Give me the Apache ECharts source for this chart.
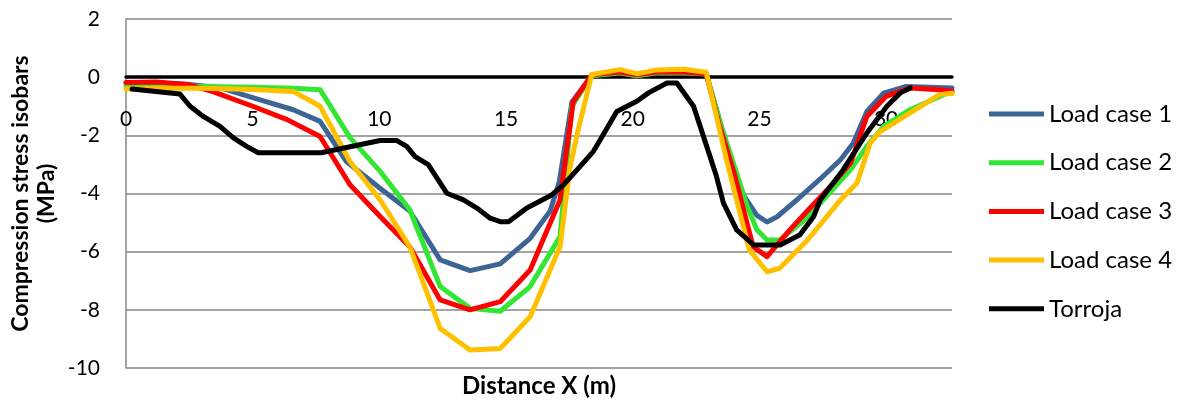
<!DOCTYPE html>
<html>
<head>
<meta charset="utf-8">
<script src="https://cdn.jsdelivr.net/npm/echarts@6/dist/echarts.min.js"></script>
<style>html,body{margin:0;padding:0;background:#fff}#c{width:1179px;height:405px}</style>
</head>
<body>
<div id="c"></div>
<script>
var seriesNames = ['Load case 1', 'Load case 2', 'Load case 3', 'Load case 4', 'Torroja'];
var xTicks = [0, 5, 10, 15, 20, 25, 30];
var yTicks = [-10, -8, -6, -4, -2, 0, 2];

var lc1X = [0, 1.2, 2.4, 3.7, 5.0, 6.6, 7.66, 8.7, 10.0, 11.2, 12.4, 13.58, 14.77, 15.95, 16.74, 17.1, 17.6, 18.38, 19.5, 20.16, 20.95, 22.0, 22.9, 23.5, 24.0, 24.4, 24.9, 25.3, 25.7, 26.5, 27.4, 28.2, 28.7, 29.24, 29.9, 30.8, 32.6];
var lc1Y = [-0.2, -0.2, -0.24, -0.36, -0.7, -1.12, -1.52, -2.9, -3.8, -4.6, -6.28, -6.65, -6.42, -5.54, -4.6, -3.6, -0.85, 0.05, 0.15, 0.05, 0.15, 0.15, 0.1, -1.7, -3.2, -4.1, -4.75, -4.98, -4.8, -4.2, -3.5, -2.84, -2.27, -1.18, -0.55, -0.32, -0.37];

var lc2X = [0, 1.2, 3.0, 5.0, 6.6, 7.66, 8.84, 10.03, 11.2, 12.4, 13.58, 14.77, 15.95, 17.13, 17.6, 18.38, 19.5, 20.16, 20.95, 22.0, 22.9, 23.5, 24.1, 24.5, 24.9, 25.3, 25.8, 26.8, 27.8, 28.6, 29.24, 29.9, 30.95, 32.4, 32.6];
var lc2Y = [-0.3, -0.3, -0.32, -0.35, -0.38, -0.43, -2.08, -3.24, -4.56, -7.2, -7.95, -8.05, -7.2, -5.48, -1.0, 0.05, 0.15, 0.05, 0.15, 0.15, 0.12, -1.7, -3.3, -4.4, -5.25, -5.6, -5.6, -4.9, -3.95, -3.18, -2.38, -1.69, -1.12, -0.55, -0.55];

var lc3X = [0, 1.2, 2.4, 3.4, 5.0, 6.36, 7.66, 8.84, 10.03, 11.2, 12.4, 13.58, 14.77, 15.95, 17.13, 17.65, 18.38, 19.5, 20.16, 20.95, 22.0, 22.9, 23.4, 24.0, 24.75, 25.3, 26.2, 27.0, 27.8, 28.6, 29.24, 30.0, 30.95, 32.1, 32.6];
var lc3Y = [-0.18, -0.17, -0.25, -0.49, -1.0, -1.46, -2.04, -3.7, -4.79, -5.83, -7.66, -8.0, -7.72, -6.63, -4.22, -0.85, 0.08, 0.18, 0.08, 0.18, 0.18, 0.12, -1.6, -3.3, -5.83, -6.17, -5.25, -4.5, -3.76, -2.95, -1.35, -0.66, -0.37, -0.43, -0.48];

var lc4X = [0, 1.2, 3.0, 5.0, 6.6, 7.66, 8.84, 10.03, 11.2, 12.4, 13.58, 14.77, 15.95, 17.13, 17.53, 17.85, 18.38, 19.5, 20.16, 20.95, 22.0, 22.9, 23.7, 24.6, 25.3, 25.8, 26.9, 28.2, 28.85, 29.37, 29.76, 30.95, 32.1, 32.6];
var lc4Y = [-0.41, -0.38, -0.38, -0.42, -0.49, -1.0, -2.9, -4.22, -5.83, -8.64, -9.38, -9.33, -8.24, -5.83, -3.07, -1.8, 0.09, 0.26, 0.12, 0.25, 0.27, 0.17, -2.84, -5.94, -6.69, -6.57, -5.6, -4.22, -3.64, -2.27, -1.87, -1.23, -0.6, -0.55];

var torX = [0.24, 2.13, 2.53, 3.05, 3.71, 4.24, 4.76, 5.22, 7.7, 10.03, 10.69, 11.08, 11.41, 11.93, 12.66, 13.32, 13.85, 14.37, 14.77, 15.1, 15.82, 16.8, 17.27, 17.8, 18.45, 19.37, 20.16, 20.62, 21.35, 21.74, 22.4, 22.92, 23.3, 23.58, 24.1, 24.77, 25.82, 26.6, 27.14, 27.4, 28.3, 29.24, 30.03, 30.56, 30.95];
var torY = [-0.41, -0.58, -1.0, -1.35, -1.69, -2.09, -2.38, -2.6, -2.6, -2.18, -2.18, -2.38, -2.73, -3.01, -3.99, -4.22, -4.5, -4.85, -4.97, -4.97, -4.5, -4.05, -3.7, -3.19, -2.55, -1.18, -0.83, -0.54, -0.2, -0.2, -1.0, -2.38, -3.4, -4.33, -5.25, -5.77, -5.77, -5.42, -4.79, -4.22, -3.19, -1.92, -1.0, -0.54, -0.37];

var colors = ['#3C6494', '#33E633', '#FF0000', '#FFC000', '#000000'];

function pairs(xs, ys) { return xs.map(function (x, i) { return [x, ys[i]]; }); }
var allData = [pairs(lc1X, lc1Y), pairs(lc2X, lc2Y), pairs(lc3X, lc3Y), pairs(lc4X, lc4Y), pairs(torX, torY)];

var FONT = 'Lato';
var chart = echarts.init(document.getElementById('c'), null, { renderer: 'canvas' });
chart.setOption({
  animation: false,
  backgroundColor: '#ffffff',
  color: colors,
  textStyle: { fontFamily: FONT },
  grid: { left: 126, right: 227, top: 19, bottom: 37, containLabel: false, outerBoundsMode: 'none' },
  legend: {
    orient: 'vertical',
    left: 989,
    top: 102,
    padding: 0,
    itemWidth: 55,
    itemHeight: 14,
    itemGap: 24.7,
    icon: 'path://M0,0 L55,0 L55,5 L0,5 Z',
    textStyle: { fontFamily: FONT, fontSize: 24, color: '#000' },
    data: seriesNames
  },
  xAxis: {
    type: 'value',
    min: 0,
    max: 32.6,
    interval: 5,
    axisLine: { onZero: true, lineStyle: { color: '#000', width: 3.5 } },
    axisTick: { show: false },
    splitLine: { show: false },
    axisLabel: {
      margin: -259,
      fontFamily: FONT,
      fontSize: 21,
      color: '#000',
      showMaxLabel: false,
      formatter: function (v) { return xTicks.indexOf(v) >= 0 ? String(v) : ''; }
    },
    name: 'Distance X (m)',
    nameLocation: 'middle',
    nameGap: 6,
    nameMoveOverlap: false,
    nameTextStyle: { fontFamily: FONT, fontSize: 24, fontWeight: 'bold', color: '#000', verticalAlign: 'top' }
  },
  yAxis: {
    type: 'value',
    min: -10,
    max: 2,
    interval: 2,
    axisLine: { show: true, onZero: false, lineStyle: { color: '#868686', width: 1.5 } },
    axisTick: { show: false },
    splitLine: { show: true, lineStyle: { color: '#868686', width: 1.5 } },
    axisLabel: {
      margin: 26,
      fontFamily: FONT,
      fontSize: 21,
      color: '#000',
      formatter: function (v) { return yTicks.indexOf(v) >= 0 ? String(v) : ''; }
    },
    name: 'Compression stress isobars\n(MPa)',
    nameLocation: 'middle',
    nameGap: 66,
    nameMoveOverlap: false,
    nameTextStyle: { fontFamily: FONT, fontSize: 23, fontWeight: 'bold', color: '#000', lineHeight: 26 }
  },
  series: seriesNames.map(function (n, i) {
    return {
      name: n,
      type: 'line',
      data: allData[i],
      symbol: 'none',
      smooth: false,
      z: 2 + i,
      lineStyle: { color: colors[i], width: 5, join: 'round', cap: 'round' },
      itemStyle: { color: colors[i] }
    };
  })
});
</script>
</body>
</html>
